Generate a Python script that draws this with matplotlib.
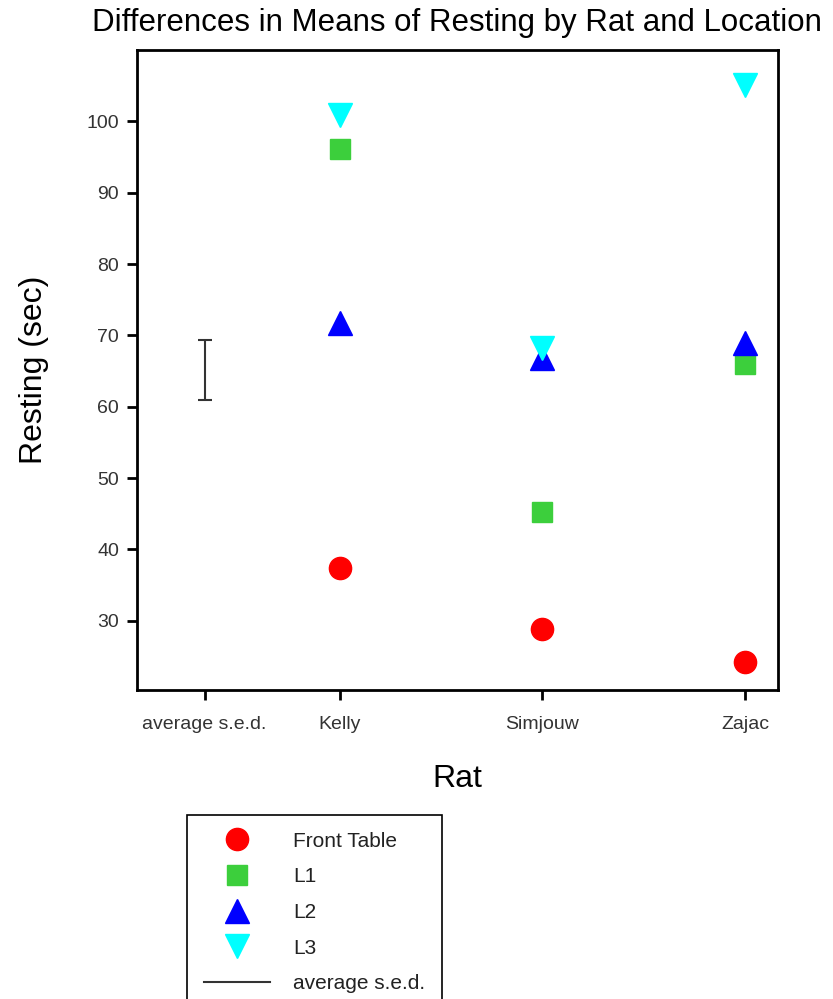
import matplotlib.pyplot as plt
from matplotlib.lines import Line2D

plt.rcParams['font.family'] = ['Liberation Sans', 'DejaVu Sans']

# data
rats = ["Kelly", "Simjouw", "Zajac"]
front_table = [37.4, 28.9, 24.2]
l1 = [96.2, 45.3, 66.0]
l2 = [71.8, 66.9, 69.0]
l3 = [100.9, 68.2, 105.1]
sed_center = 65.1
sed_half = 4.2

x_rats = [1, 2, 3]
x_sed = 1 / 3

fig = plt.figure(figsize=(8.33, 9.99), dpi=100)
ax = fig.add_axes([0.1645, 0.3093, 0.769, 0.6406])

ax.plot(x_rats, front_table, "o", color="#ff0000", ms=16, ls="none", label="Front Table")
ax.plot(x_rats, l1, "s", color="#3ccf3c", ms=15, ls="none", label="L1")
ax.plot(x_rats, l2, "^", color="#0000ff", ms=17, ls="none", label="L2")
ax.plot(x_rats, l3, "v", color="#00ffff", ms=17, ls="none", label="L3")
ax.errorbar([x_sed], [sed_center], yerr=[sed_half], fmt="none", ecolor="#333333",
            elinewidth=1.5, capsize=5, capthick=1.5)

ax.set_xlim(0, 3.16)
ax.set_ylim(20.3, 110)
ax.set_xticks([x_sed] + x_rats)
ax.set_xticklabels(["average s.e.d."] + rats)
ax.set_yticks(range(30, 101, 10))
ax.tick_params(direction="out", length=7, width=2, labelsize=14, labelcolor="#333333", pad=6)
ax.tick_params(axis="x", pad=12)
for s in ax.spines.values():
    s.set_linewidth(2)

ax.set_title("Differences in Means of Resting by Rat and Location", fontsize=22.5, pad=14)
ax.set_ylabel("Resting (sec)", fontsize=23, labelpad=27)
ax.set_xlabel("Rat", fontsize=23, labelpad=22)

handles, labels = ax.get_legend_handles_labels()
handles.append(Line2D([], [], color="#333333", lw=1.5))
labels.append("average s.e.d.")
leg = ax.legend(handles, labels, loc="upper left", bbox_to_anchor=(187 / 833, 1 - 815 / 999),
                bbox_transform=fig.transFigure, fancybox=False, edgecolor="black",
                fontsize=15, borderaxespad=0, labelspacing=0.8, handlelength=3.2,
                handletextpad=1.1, borderpad=0.8, framealpha=1)
leg.get_frame().set_linewidth(1.2)
for t in leg.get_texts():
    t.set_color("#222222")

fig.savefig("out.png", dpi=100)
